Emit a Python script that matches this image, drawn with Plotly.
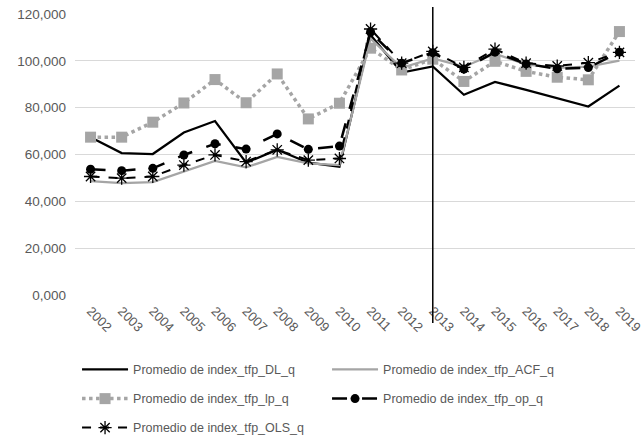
import plotly.graph_objects as go

# Years on the category axis and the base year marked by the vertical rule
years = [str(y) for y in range(2002, 2020)]
base_year = "2013"

# Average TFP index per estimation method
tfp_dl = [67.4, 60.6, 60.2, 69.4, 74.3, 56.5, 62.0, 56.5, 54.8, 111.0, 95.0, 97.6, 85.5, 91.0, 87.6, 84.0, 80.5, 89.4]
tfp_acf = [48.6, 47.8, 48.2, 52.8, 57.3, 54.5, 59.0, 56.2, 55.5, 109.5, 97.0, 101.0, 97.5, 103.0, 98.5, 97.0, 97.5, 100.1]
tfp_lp = [67.4, 67.4, 73.8, 82.0, 92.0, 82.1, 94.4, 75.2, 81.9, 105.4, 96.1, 100.7, 91.2, 99.8, 95.5, 93.0, 91.9, 112.5]
tfp_op = [53.7, 53.1, 54.1, 59.8, 64.6, 62.3, 68.8, 62.2, 63.6, 112.3, 99.0, 103.5, 96.5, 103.7, 98.7, 96.6, 97.1, 103.7]
tfp_ols = [50.6, 49.9, 50.6, 55.5, 59.8, 57.0, 62.0, 57.6, 58.3, 113.6, 99.0, 104.0, 97.2, 105.0, 99.0, 97.8, 99.2, 103.6]

y_ticks = [0, 20, 40, 60, 80, 100, 120]

FONT = "Liberation Sans"
TEXT_GREY = "#595959"
LIGHT_GREY = "#A5A5A5"

fig = go.Figure()

fig.add_trace(go.Scatter(
    x=years, y=tfp_dl, name="Promedio de index_tfp_DL_q", mode="lines",
    line=dict(color="black", width=2.25), legend="legend",
))
fig.add_trace(go.Scatter(
    x=years, y=tfp_acf, name="Promedio de index_tfp_ACF_q", mode="lines",
    line=dict(color=LIGHT_GREY, width=2.25), legend="legend",
))
fig.add_trace(go.Scatter(
    x=years, y=tfp_lp, name="Promedio de index_tfp_lp_q", mode="lines+markers",
    line=dict(color=LIGHT_GREY, width=3.5, dash="dot"),
    marker=dict(symbol="square", size=11, color=LIGHT_GREY), legend="legend2",
))
fig.add_trace(go.Scatter(
    x=years, y=tfp_op, name="Promedio de index_tfp_op_q", mode="lines+markers",
    line=dict(color="black", width=2.5, dash="longdash"),
    marker=dict(symbol="circle", size=9, color="black"), legend="legend2",
))
fig.add_trace(go.Scatter(
    x=years, y=tfp_ols, name="Promedio de index_tfp_OLS_q", mode="lines+markers",
    line=dict(color="black", width=2, dash="dash"),
    marker=dict(symbol="asterisk-open", size=11, color="black",
                line=dict(color="black", width=1.3)),
    legend="legend3",
))

# Vertical rule at the base year, running past the axis through the tick labels
base_idx = years.index(base_year)
fig.add_shape(
    type="line", xref="x", yref="paper",
    x0=base_idx, x1=base_idx, y0=-0.1, y1=1.025,
    line=dict(color="black", width=1.5), layer="above",
)


def legend_row(top):
    # one legend row of up to two entries, laid out side by side
    return dict(
        orientation="h", xref="container", yref="container",
        x=0.12, y=top, xanchor="left", yanchor="top",
        entrywidth=189, entrywidthmode="pixels", itemwidth=46,
        font=dict(family=FONT, size=12.5, color=TEXT_GREY),
        bgcolor="rgba(0,0,0,0)",
    )


fig.update_layout(
    width=642, height=438,
    margin=dict(l=75, r=7, t=14, b=143, autoexpand=False),
    paper_bgcolor="white", plot_bgcolor="white",
    separators=",.",
    font=dict(family=FONT, size=12.5, color=TEXT_GREY),
    showlegend=True,
    legend=legend_row(0.19),
    legend2=legend_row(0.1233),
    legend3=legend_row(0.0571),
    xaxis=dict(
        type="category", range=[-0.5, len(years) - 0.5],
        tickangle=45, showgrid=False, showline=False,
        ticks="", automargin=False, ticklabelstandoff=5,
        tickfont=dict(family=FONT, size=13, color=TEXT_GREY),
    ),
    yaxis=dict(
        range=[0, 120], tickvals=y_ticks, tickformat=".3f",
        showgrid=True, gridcolor="#D9D9D9", gridwidth=1,
        zeroline=False, showline=False, ticks="", automargin=False,
        ticklabelstandoff=8,
        tickfont=dict(family=FONT, size=13.5, color=TEXT_GREY),
    ),
)

fig.write_html("out.html")
